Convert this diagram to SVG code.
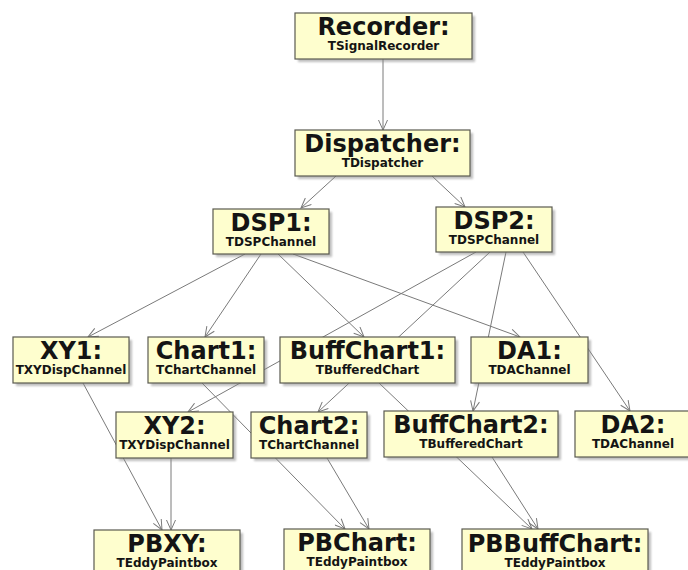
<svg xmlns="http://www.w3.org/2000/svg" width="688" height="570" viewBox="0 0 688 570">
  <defs>
    <style>
      .box { fill: #fefece; stroke: #5a5a50; stroke-width: 1.2; }
      .shadow { fill: #8a8a8a; opacity: 0.55; filter: url(#soft); }
      .title { font-family: "DejaVu Sans", "Liberation Sans", sans-serif; font-weight: bold; font-size: 24px; fill: #141414; text-anchor: middle; }
      .sub { font-family: "DejaVu Sans", "Liberation Sans", sans-serif; font-weight: bold; font-size: 12px; fill: #141414; text-anchor: middle; }
      .edge { fill: none; stroke: #7a7a7a; stroke-width: 1; marker-end: url(#arrow); }
    </style>
    <filter id="soft" x="-10%" y="-10%" width="120%" height="130%">
      <feGaussianBlur stdDeviation="1.2"/>
    </filter>
    <marker id="arrow" markerUnits="userSpaceOnUse" markerWidth="12" markerHeight="10" refX="11" refY="5" orient="auto">
      <path d="M1,0.5 L11,5 L1,9.5" fill="none" stroke="#7a7a7a" stroke-width="1"/>
    </marker>
  </defs>

  <rect width="688" height="570" fill="#ffffff"/>

  <!-- connectors (drawn first so boxes sit on top of them) -->
  <g id="connectors">
    <line class="edge" x1="383" y1="59" x2="383" y2="130"/>
    <line class="edge" x1="336" y1="176" x2="301" y2="208"/>
    <line class="edge" x1="432" y1="176" x2="465" y2="207"/>
    <line class="edge" x1="245" y1="254" x2="88" y2="337"/>
    <line class="edge" x1="261" y1="254" x2="205" y2="337"/>
    <line class="edge" x1="278" y1="254" x2="364" y2="337"/>
    <line class="edge" x1="293" y1="254" x2="520" y2="337"/>
    <line class="edge" x1="476" y1="252" x2="188" y2="412"/>
    <line class="edge" x1="490" y1="252" x2="318" y2="412"/>
    <line class="edge" x1="506" y1="252" x2="473" y2="411"/>
    <line class="edge" x1="523" y1="252" x2="630" y2="411"/>
    <line class="edge" x1="83" y1="383" x2="162" y2="530"/>
    <line class="edge" x1="171" y1="458" x2="171" y2="530"/>
    <line class="edge" x1="202" y1="383" x2="345" y2="529"/>
    <line class="edge" x1="327" y1="458" x2="369" y2="529"/>
    <line class="edge" x1="379" y1="383" x2="532" y2="529"/>
    <line class="edge" x1="492" y1="457" x2="538" y2="529"/>
  </g>

  <g id="Recorder">
    <rect class="shadow" x="298" y="16" width="177" height="46"/>
    <rect class="box" x="295" y="13" width="177" height="46"/>
    <text class="title" x="383.5" y="35">Recorder:</text>
    <text class="sub" x="383.5" y="50">TSignalRecorder</text>
  </g>

  <g id="Dispatcher">
    <rect class="shadow" x="298" y="133" width="175" height="46"/>
    <rect class="box" x="295" y="130" width="175" height="46"/>
    <text class="title" x="382.5" y="152">Dispatcher:</text>
    <text class="sub" x="382.5" y="167">TDispatcher</text>
  </g>

  <g id="DSP1">
    <rect class="shadow" x="216" y="212" width="116" height="45"/>
    <rect class="box" x="213" y="209" width="116" height="45"/>
    <text class="title" x="271" y="231">DSP1:</text>
    <text class="sub" x="271" y="246">TDSPChannel</text>
  </g>

  <g id="DSP2">
    <rect class="shadow" x="439" y="210" width="116" height="45"/>
    <rect class="box" x="436" y="207" width="116" height="45"/>
    <text class="title" x="494" y="229">DSP2:</text>
    <text class="sub" x="494" y="244">TDSPChannel</text>
  </g>

  <g id="XY1">
    <rect class="shadow" x="16" y="340" width="116" height="46"/>
    <rect class="box" x="13" y="337" width="116" height="46"/>
    <text class="title" x="71" y="359">XY1:</text>
    <text class="sub" x="71" y="374">TXYDispChannel</text>
  </g>

  <g id="Chart1">
    <rect class="shadow" x="151" y="340" width="116" height="46"/>
    <rect class="box" x="148" y="337" width="116" height="46"/>
    <text class="title" x="206" y="359">Chart1:</text>
    <text class="sub" x="206" y="374">TChartChannel</text>
  </g>

  <g id="BuffChart1">
    <rect class="shadow" x="283" y="340" width="175" height="46"/>
    <rect class="box" x="280" y="337" width="175" height="46"/>
    <text class="title" x="367.5" y="359">BuffChart1:</text>
    <text class="sub" x="367.5" y="374">TBufferedChart</text>
  </g>

  <g id="DA1">
    <rect class="shadow" x="474" y="340" width="117" height="46"/>
    <rect class="box" x="471" y="337" width="117" height="46"/>
    <text class="title" x="529.5" y="359">DA1:</text>
    <text class="sub" x="529.5" y="374">TDAChannel</text>
  </g>

  <g id="XY2">
    <rect class="shadow" x="119" y="415" width="117" height="46"/>
    <rect class="box" x="116" y="412" width="117" height="46"/>
    <text class="title" x="174.5" y="434">XY2:</text>
    <text class="sub" x="174.5" y="449">TXYDispChannel</text>
  </g>

  <g id="Chart2">
    <rect class="shadow" x="254" y="415" width="116" height="46"/>
    <rect class="box" x="251" y="412" width="116" height="46"/>
    <text class="title" x="309" y="434">Chart2:</text>
    <text class="sub" x="309" y="449">TChartChannel</text>
  </g>

  <g id="BuffChart2">
    <rect class="shadow" x="387" y="414" width="174" height="46"/>
    <rect class="box" x="384" y="411" width="174" height="46"/>
    <text class="title" x="471" y="433">BuffChart2:</text>
    <text class="sub" x="471" y="448">TBufferedChart</text>
  </g>

  <g id="DA2">
    <rect class="shadow" x="578" y="414" width="116" height="46"/>
    <rect class="box" x="575" y="411" width="116" height="46"/>
    <text class="title" x="633" y="433">DA2:</text>
    <text class="sub" x="633" y="448">TDAChannel</text>
  </g>

  <g id="PBXY">
    <rect class="shadow" x="97" y="533" width="146" height="46"/>
    <rect class="box" x="94" y="530" width="146" height="46"/>
    <text class="title" x="167" y="552">PBXY:</text>
    <text class="sub" x="167" y="567">TEddyPaintbox</text>
  </g>

  <g id="PBChart">
    <rect class="shadow" x="287" y="532" width="146" height="46"/>
    <rect class="box" x="284" y="529" width="146" height="46"/>
    <text class="title" x="357" y="551">PBChart:</text>
    <text class="sub" x="357" y="566">TEddyPaintbox</text>
  </g>

  <g id="PBBuffChart">
    <rect class="shadow" x="465" y="532" width="186" height="46"/>
    <rect class="box" x="462" y="529" width="186" height="46"/>
    <text class="title" x="555" y="552">PBBuffChart:</text>
    <text class="sub" x="555" y="567">TEddyPaintbox</text>
  </g>
</svg>
